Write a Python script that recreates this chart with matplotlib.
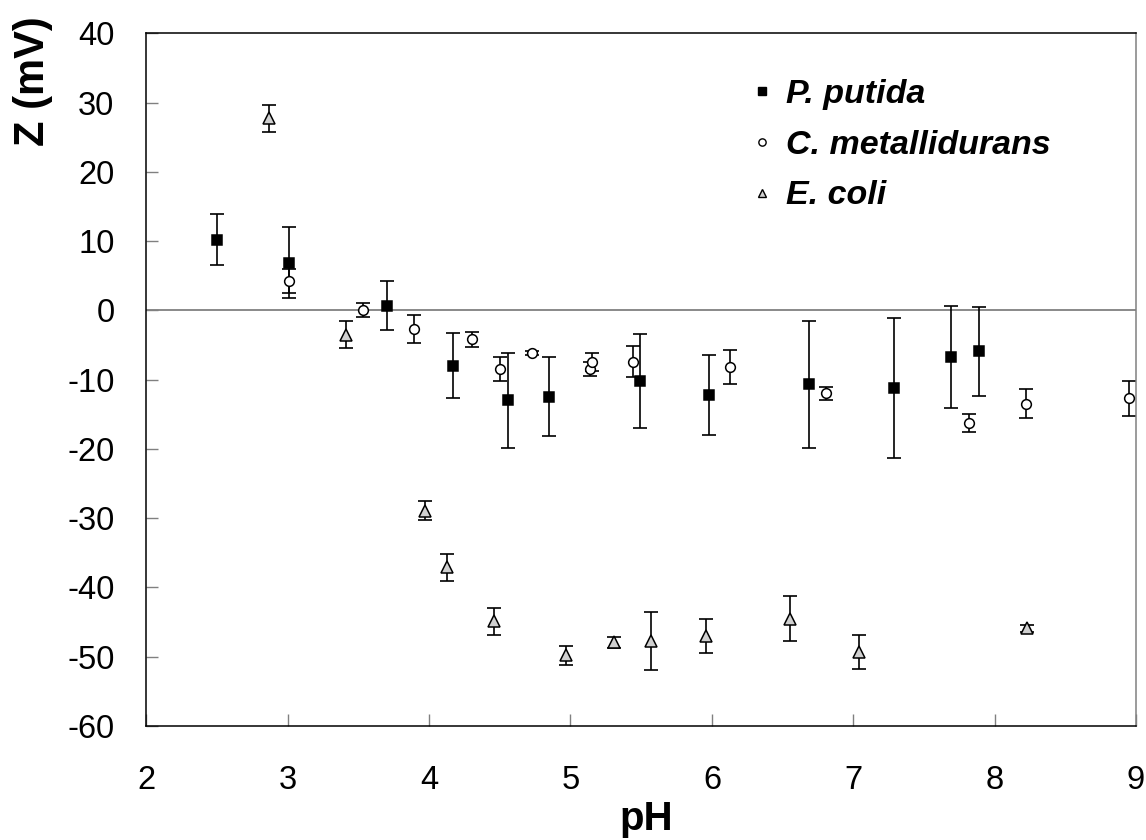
import matplotlib
matplotlib.use("Agg")
import matplotlib.pyplot as plt
from matplotlib.lines import Line2D

# zeta potential vs pH, three strains
putida_ph = [2.50, 3.01, 3.70, 4.17, 4.56, 4.85, 5.49, 5.98, 6.69, 7.29, 7.69, 7.89]
putida_z = [10.2, 6.9, 0.7, -8.0, -13.0, -12.5, -10.2, -12.2, -10.7, -11.2, -6.7, -5.9]
putida_err = [3.7, 5.1, 3.6, 4.7, 6.9, 5.7, 6.8, 5.8, 9.2, 10.1, 7.4, 6.4]

metal_ph = [3.01, 3.53, 3.89, 4.30, 4.50, 4.73, 5.14, 5.15, 5.44, 6.13, 6.81, 7.82, 8.22, 8.95]
metal_z = [4.2, 0.1, -2.7, -4.2, -8.5, -6.2, -8.5, -7.5, -7.4, -8.2, -12.0, -16.2, -13.5, -12.7]
metal_err = [1.7, 1.0, 2.0, 1.1, 1.7, 0.3, 1.0, 1.3, 2.2, 2.5, 1.0, 1.3, 2.1, 2.5]

coli_ph = [2.87, 3.41, 3.97, 4.13, 4.46, 4.97, 5.31, 5.57, 5.96, 6.55, 7.04, 8.23]
coli_z = [27.7, -3.5, -28.9, -37.1, -44.9, -49.8, -47.9, -47.7, -47.0, -44.5, -49.3, -45.9]
coli_err = [2.0, 1.9, 1.4, 2.0, 1.9, 1.4, 0.8, 4.2, 2.5, 3.3, 2.5, 0.5]

labels = ["P. putida", "C. metallidurans", "E. coli"]
x_ticks = [2, 3, 4, 5, 6, 7, 8, 9]
y_ticks = [-60, -50, -40, -30, -20, -10, 0, 10, 20, 30, 40]

plt.rcParams["font.family"] = ["Liberation Sans", "DejaVu Sans"]
plt.rcParams["axes.unicode_minus"] = False

fig = plt.figure(figsize=(11.46, 8.4), dpi=100)
ax = fig.add_axes([0.1277, 0.1357, 0.8636, 0.8247])

ax.axhline(0, color="#808080", lw=1.3, zorder=1)

styles = [
    dict(marker="s", mfc="black", ms=7.5),
    dict(marker="o", mfc="white", ms=7),
    dict(marker="^", mfc="#d0d0d0", ms=8),
]
series = [
    (putida_ph, putida_z, putida_err),
    (metal_ph, metal_z, metal_err),
    (coli_ph, coli_z, coli_err),
]
for (xs, ys, es), st in zip(series, styles):
    ax.errorbar(xs, ys, yerr=es, fmt="none", ecolor="black", elinewidth=1.2,
                capsize=4.8, capthick=1.2, zorder=2)
    ax.plot(xs, ys, ls="none", marker=st["marker"], mfc=st["mfc"], mec="black",
            mew=1.1, ms=st["ms"], zorder=3)

ax.set_xlim(2, 9)
ax.set_ylim(-60, 40)
ax.set_xticks(x_ticks)
ax.set_yticks(y_ticks)
ax.tick_params(direction="in", length=8.5, width=1, color="#808080",
               labelsize=23.5, top=False, right=False)
ax.tick_params(axis="x", pad=28)
ax.tick_params(axis="y", pad=23)
for s in ax.spines.values():
    s.set_color("black")
    s.set_linewidth(1.1)
ax.spines["right"].set_color("#808080")

fig.text(33 / 1146, 1 - 81 / 840, "Z (mV)", rotation=90, fontsize=30,
         fontweight="bold", ha="center", va="center")
fig.text(646 / 1146, 10 / 840, "pH", fontsize=29, fontweight="bold",
         ha="center", va="baseline")

# legend: markers only
handles = [Line2D([], [], ls="none", marker=st["marker"], mfc=st["mfc"],
                  mec="black", mew=1.0, ms=st["ms"] * 0.75) for st in styles]
leg = ax.legend(handles, labels, loc="upper left",
                bbox_to_anchor=(735 / 1146, 1 - 62 / 840),
                bbox_transform=fig.transFigure, frameon=False,
                handlelength=0.6, handletextpad=0.4, labelspacing=0.58,
                borderpad=0, prop=dict(size=24.5, weight="bold", style="italic"))

fig.savefig("out.png", dpi=100)
